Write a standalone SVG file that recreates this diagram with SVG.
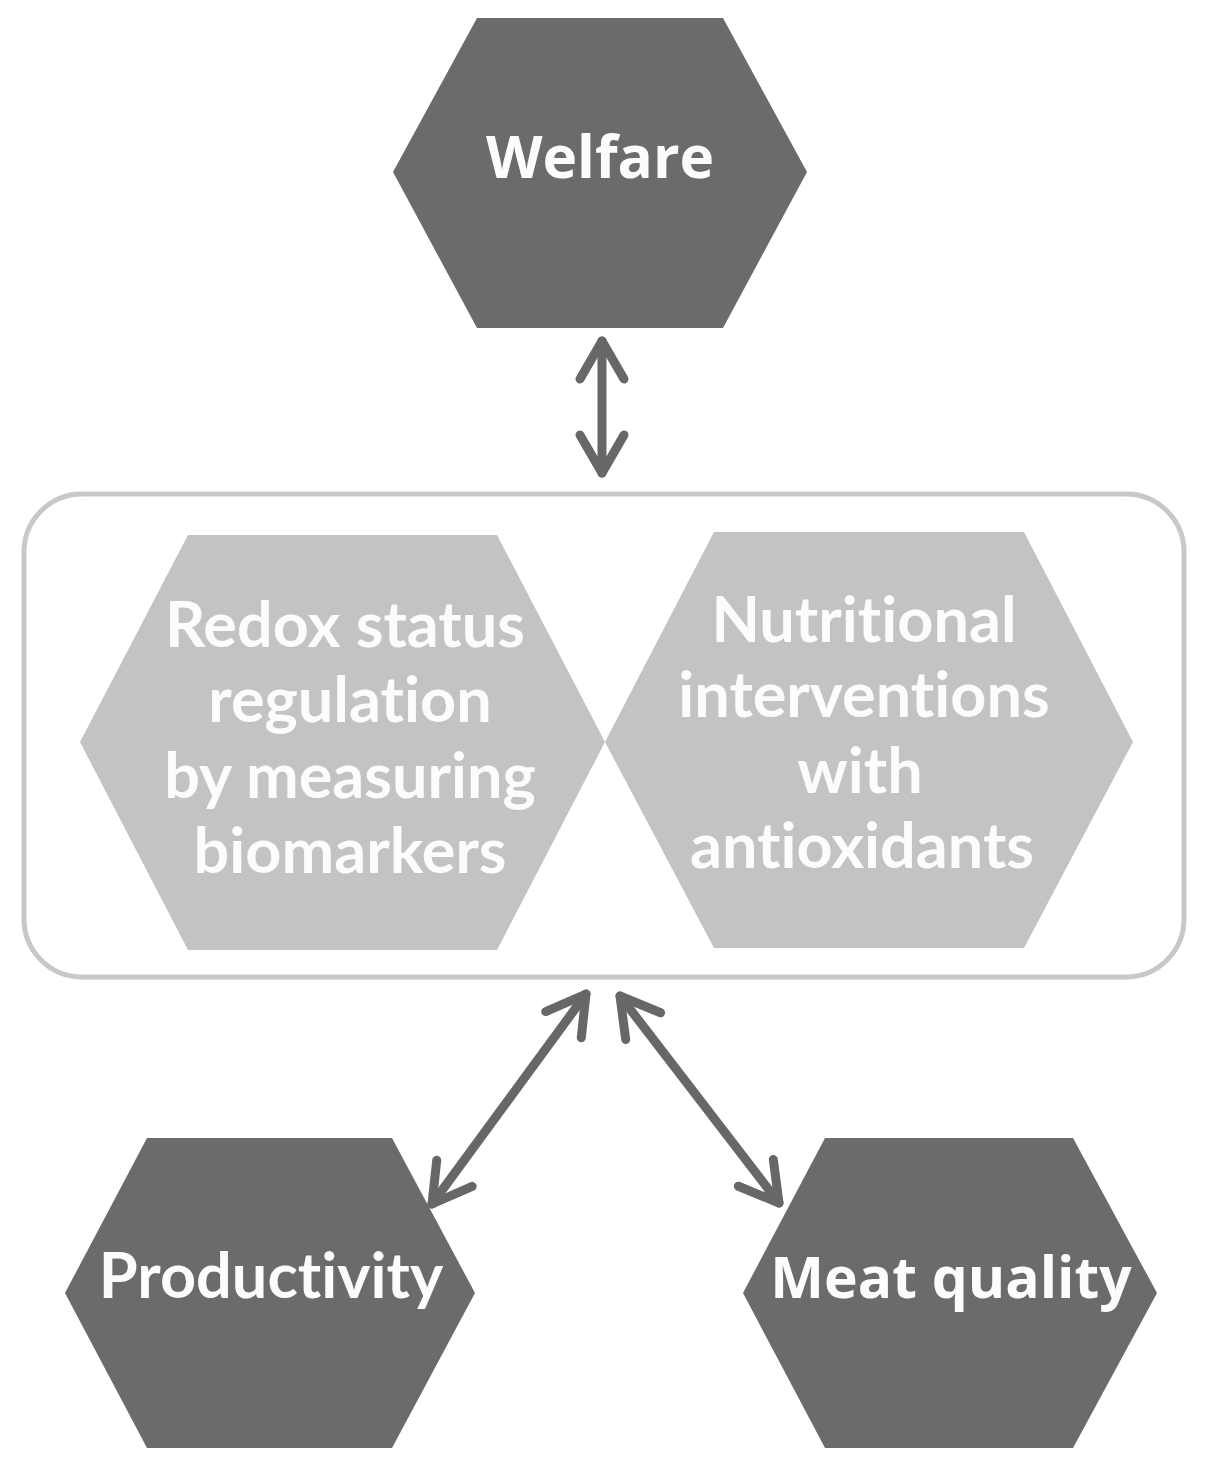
<svg xmlns="http://www.w3.org/2000/svg" width="1205" height="1468" viewBox="0 0 1205 1468">
<style>
.dark{fill:#6b6b6b}
.light{fill:#c3c3c3}
.t1{font-family:"Open Sans","DejaVu Sans",sans-serif;font-weight:700;fill:#fcfcfc;text-anchor:middle;font-size:57px}
.t2{font-family:Lato,"Liberation Sans",sans-serif;font-weight:700;fill:#fcfcfc;text-anchor:middle;font-size:63px;font-variant-ligatures:none}
.conn{stroke:#676767;stroke-width:9;fill:none;stroke-linecap:round}
</style>
<defs>
<marker id="ah" markerUnits="userSpaceOnUse" viewBox="-50 -30 60 60" refX="0" refY="0" markerWidth="60" markerHeight="60" orient="auto-start-reverse">
<path d="M-38,-22 L0,0 L-38,22" fill="none" stroke="#676767" stroke-width="9" stroke-linecap="round" stroke-linejoin="round"/>
</marker>
</defs>
<rect x="24" y="494" width="1160" height="483" rx="58" ry="58" fill="none" stroke="#c8c8c8" stroke-width="5"/>
<g id="welfare">
<polygon class="dark" points="393,172 477,18 723,18 807,172 723,328 477,328"/>
<text class="t1" x="600" y="178" style="font-size:58.5px">Welfare</text>
</g>
<g id="redox">
<polygon class="light" points="80,742 188,535 497,535 605,742 497,950 188,950"/>
<text class="t2" x="345" y="647">Redox status</text>
<text class="t2" x="350" y="722">regulation</text>
<text class="t2" x="350" y="798">by measuring</text>
<text class="t2" x="350" y="873">biomarkers</text>
</g>
<g id="nutrition">
<polygon class="light" points="605,742 714,532 1024,532 1133,742 1024,948 714,948"/>
<text class="t2" x="864" y="642">Nutritional</text>
<text class="t2" x="864" y="717">interventions</text>
<text class="t2" x="860" y="793">with</text>
<text class="t2" x="862" y="868">antioxidants</text>
</g>
<g id="productivity">
<polygon class="dark" points="65,1293 147,1138 392,1138 475,1293 392,1448 147,1448"/>
<text class="t2" x="271" y="1298">Productivity</text>
</g>
<g id="meat">
<polygon class="dark" points="743,1293 825,1138 1073,1138 1157,1293 1073,1448 825,1448"/>
<text class="t1" x="951" y="1298">Meat quality</text>
</g>
<g id="connectors">
<line class="conn" x1="602" y1="341" x2="602" y2="473" marker-start="url(#ah)" marker-end="url(#ah)"/>
<line class="conn" x1="586" y1="994" x2="432" y2="1204" marker-start="url(#ah)" marker-end="url(#ah)"/>
<line class="conn" x1="620" y1="996" x2="779" y2="1203" marker-start="url(#ah)" marker-end="url(#ah)"/>
</g>
</svg>
